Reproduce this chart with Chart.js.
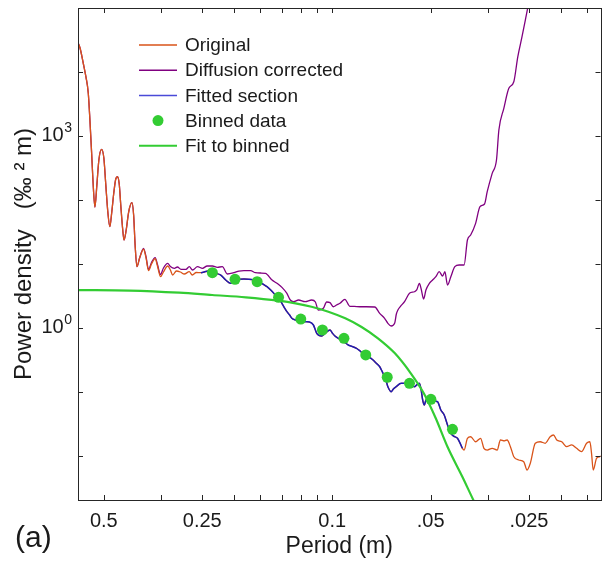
<!DOCTYPE html>
<html>
<head>
<meta charset="utf-8">
<script src="https://cdn.jsdelivr.net/npm/chart.js@4.4.1/dist/chart.umd.min.js"></script>
<style>
html, body { margin: 0; padding: 0; background: #fff; }
canvas { display: block; }
</style>
</head>
<body>
<canvas id="chart" width="606" height="562"></canvas>
<script>
// spatial frequency in cycles per m (period = 1/f), power density in ‰² m

// original spectrum
const origFreq = [1.667, 1.691, 1.730, 1.763, 1.792, 1.813, 1.835, 1.852, 1.878, 1.904,
  1.931, 1.968, 2.000, 2.028, 2.057, 2.086, 2.115, 2.145, 2.175, 2.201,
  2.229, 2.253, 2.285, 2.305, 2.341, 2.382, 2.438, 2.467, 2.493, 2.525,
  2.573, 2.646, 2.693, 2.740, 2.798, 2.872, 2.918, 2.981, 3.044, 3.136,
  3.196, 3.248, 3.334, 3.428, 3.526, 3.651, 3.729, 3.835, 3.963, 4.055,
  4.169, 4.290, 4.410, 4.558, 4.721, 4.889, 5.038, 5.182, 5.367, 5.557,
  5.754, 5.960, 6.129, 6.315, 6.481, 6.698, 6.855, 7.015, 7.149, 7.265,
  7.404, 7.524, 7.720, 7.885, 8.107, 8.356, 8.516, 8.757, 8.963, 9.281,
  9.524, 9.842, 10.00, 10.19, 10.56, 10.88, 11.19, 11.51, 11.86, 12.17,
  12.57, 12.96, 13.33, 13.61, 13.97, 14.19, 14.46, 14.65, 14.80, 15.15,
  15.38, 15.69, 16.24, 16.82, 17.27, 17.84, 18.13, 18.48, 18.71, 18.91,
  19.14, 19.35, 19.86, 20.42, 21.00, 21.49, 22.01, 22.53, 23.06, 23.50,
  24.17, 24.59, 25.02, 25.32, 25.92, 26.52, 27.46, 28.44, 29.11, 29.80,
  30.86, 31.96, 32.71, 33.57, 34.28, 35.09, 35.94, 37.22, 38.55, 39.45,
  40.37, 41.81, 43.29, 44.83, 46.42, 47.53, 48.64, 50.37, 52.16, 54.02,
  55.95, 57.94, 60.01, 61.42, 62.15, 62.89, 64.37, 65.87, 67.12];
const origPower = [28700, 23700, 13700, 8360, 4700, 1778, 542, 205, 77.7, 171,
  422, 619, 453, 171, 64.9, 38.3, 64.9, 128.5, 213, 231,
  178, 83.6, 34.0, 23.7, 34.0, 64.9, 90.8, 58.3, 19.8, 9.08,
  12.4, 17.0, 12.4, 7.86, 10.0, 12.1, 9.31, 6.33, 7.50, 9.31,
  8.06, 6.73, 7.77, 7.50, 6.98, 7.58, 6.73, 7.36, 7.31, 7.50,
  7.77, 7.23, 7.11, 6.73, 5.62, 4.99, 5.52, 5.77, 5.83, 5.77,
  5.62, 5.29, 4.87, 4.42, 3.93, 3.28, 2.94, 2.43, 2.05, 1.80,
  1.60, 1.418, 1.334, 1.300, 1.264, 1.254, 1.241, 1.114, 0.826, 0.750,
  0.835, 0.931, 0.835, 0.750, 0.666, 0.604, 0.543, 0.514, 0.482, 0.437,
  0.379, 0.352, 0.316, 0.284, 0.2485, 0.213, 0.173, 0.1433, 0.121, 0.101,
  0.1114, 0.121, 0.1368, 0.1368, 0.1287, 0.121, 0.1287, 0.1368, 0.1075, 0.0750,
  0.0626, 0.0750, 0.0737, 0.0723, 0.0705, 0.0523, 0.0437, 0.0305, 0.0226, 0.0205,
  0.0189, 0.0160, 0.0132, 0.0124, 0.0189, 0.0200, 0.0167, 0.0189, 0.0132, 0.0124,
  0.0132, 0.0124, 0.0178, 0.0172, 0.0178, 0.0140, 0.00975, 0.00866, 0.00815, 0.00604,
  0.00769, 0.0158, 0.0167, 0.0158, 0.0200, 0.0213, 0.0178, 0.0167, 0.0140, 0.0149,
  0.0132, 0.0117, 0.0158, 0.0167, 0.0110, 0.00604, 0.00920, 0.00975, 0.0104];

// diffusion corrected spectrum (same as original below this frequency)
const corrFreq = [2.646, 2.693, 2.740, 2.798, 2.872, 2.918, 2.981, 3.044, 3.136, 3.196,
  3.288, 3.358, 3.445, 3.568, 3.651, 3.737, 3.870, 4.008, 4.142, 4.297,
  4.450, 4.609, 4.773, 5.002, 5.182, 5.367, 5.624, 5.822, 6.043, 6.246,
  6.542, 6.775, 7.015, 7.265, 7.440, 7.614, 7.885, 8.262, 8.654, 8.880,
  9.068, 9.391, 9.612, 9.842, 10.07, 10.31, 10.56, 10.93, 11.32, 11.67,
  12.14, 12.71, 13.49, 13.97, 14.46, 14.80, 15.15, 15.52, 15.71, 15.88,
  16.21, 16.64, 17.23, 17.84, 18.13, 18.48, 18.71, 19.04, 19.35, 19.82,
  20.28, 20.75, 21.25, 21.76, 22.11, 22.53, 23.06, 23.72, 24.45, 25.32,
  25.92, 26.52, 27.46, 28.32, 29.24, 29.80, 30.86, 31.81, 32.35, 33.50,
  34.70, 35.94, 36.96, 38.08, 38.98, 39.91, 40.84];
const corrPower = [17.5, 12.9, 8.20, 10.55, 12.6, 9.82, 6.85, 8.66, 10.2, 9.14,
  8.57, 8.98, 8.26, 8.26, 9.08, 8.06, 9.08, 8.57, 9.31, 9.31,
  8.88, 9.08, 6.98, 7.31, 7.77, 7.86, 7.86, 7.31, 7.23, 7.15,
  5.62, 4.99, 4.32, 3.48, 2.74, 2.58, 2.74, 2.58, 2.74, 2.55,
  1.91, 2.03, 2.55, 2.49, 2.15, 2.29, 2.43, 2.81, 2.18, 2.17,
  2.15, 2.15, 2.13, 1.697, 1.418, 1.184, 1.075, 1.184, 1.655, 1.91,
  2.21, 2.58, 3.48, 3.69, 3.93, 4.99, 4.07, 2.84, 3.93, 4.99,
  5.62, 6.33, 7.58, 6.49, 7.58, 4.70, 6.33, 9.08, 9.65, 9.65,
  23.7, 28.4, 43.2, 78.6, 86.6, 135, 261, 422, 1241, 2710,
  5560, 7050, 17300, 35600, 64900, 118000, 191000];

// frequency band used for the fit
const fittedBand = [3.9, 25.1];

// binned data
const binFreq = [4.297, 5.04, 5.89, 6.85, 8.01, 9.33, 10.86, 12.66, 14.73, 17.23, 20.04, 23.33];
const binPower = [7.31, 5.77, 5.29, 3.02, 1.38, 0.931, 0.690, 0.379, 0.170, 0.1368, 0.0769, 0.0261];

// fit to binned
const fitFreq = [1.667, 2.399, 3.404, 4.29, 5.44, 6.85, 7.72, 8.64, 9.73, 10.96,
  12.26, 13.80, 15.55, 17.39, 19.04, 20.72, 22.54, 25.03, 27.02, 28.18];
const fitPower = [3.92, 3.85, 3.56, 3.28, 3.02, 2.67, 2.43, 2.15, 1.80, 1.418,
  1.048, 0.690, 0.402, 0.196, 0.0964, 0.0392, 0.01382, 0.00470, 0.002054, 0.001334];

// axes
const periodTickFreq = [2, 4, 10, 20, 40];
const periodTickLabels = ['0.5', '0.25', '0.1', '.05', '.025'];
const minorTickFreq = [3, 5, 6, 7, 8, 9, 30, 50, 60];
const powerDecades = [0.01, 0.1, 1, 10, 100, 1000, 10000];
const powerLabelled = [1, 1000];
const powerLabelExp = ['0', '3'];
const seriesNames = ['Original', 'Diffusion corrected', 'Fitted section', 'Binned data', 'Fit to binned'];

const FONT = "'Liberation Sans', Arial, Helvetica, sans-serif";
const INK = '#1a1a1a';
const AXIS = '#262626';
const ORANGE = '#D95319';
const PURPLE = '#800080';
const BLUE = '#1c1cb4';
const GREEN = '#33cc33';

const pts = (xs, ys) => xs.map((x, i) => ({x: x, y: ys[i]}));
const original = pts(origFreq, origPower);
const corrected = original.filter(p => p.x < corrFreq[0]).concat(pts(corrFreq, corrPower));
const fitted = original.filter(p => p.x > fittedBand[0] && p.x < fittedBand[1]);

const frameAndText = {
  id: 'frameAndText',
  afterDatasetsDraw(chart) {
    const ctx = chart.ctx;
    const a = chart.chartArea;
    const xs = chart.scales.x, ys = chart.scales.y;
    const tl = 5;
    ctx.save();
    ctx.strokeStyle = AXIS;
    ctx.lineWidth = 1;
    ctx.beginPath();
    periodTickFreq.concat(minorTickFreq).forEach(v => {
      const px = Math.round(xs.getPixelForValue(v)) + 0.5;
      ctx.moveTo(px, a.bottom); ctx.lineTo(px, a.bottom - tl);
      ctx.moveTo(px, a.top); ctx.lineTo(px, a.top + tl);
    });
    powerDecades.forEach(v => {
      const py = Math.round(ys.getPixelForValue(v)) + 0.5;
      ctx.moveTo(a.left, py); ctx.lineTo(a.left + tl, py);
      ctx.moveTo(a.right, py); ctx.lineTo(a.right - tl, py);
    });
    ctx.stroke();
    ctx.strokeRect(Math.round(a.left) + 0.5, Math.round(a.top) + 0.5,
      Math.round(a.right - a.left), Math.round(a.bottom - a.top));

    // y labels 10^n
    ctx.fillStyle = INK;
    ctx.textAlign = 'right';
    ctx.textBaseline = 'alphabetic';
    powerLabelled.forEach((v, i) => {
      const py = ys.getPixelForValue(v);
      const xr = a.left - 6;
      ctx.font = '14px ' + FONT;
      const ew = ctx.measureText(powerLabelExp[i]).width;
      ctx.fillText(powerLabelExp[i], xr, py - 4);
      ctx.font = '20px ' + FONT;
      ctx.fillText('10', xr - ew - 0.5, py + 5);
    });

    // legend
    ctx.textAlign = 'left';
    ctx.textBaseline = 'middle';
    ctx.font = '19px ' + FONT;
    const colors = [ORANGE, PURPLE, '#4a4ad8', GREEN, GREEN];
    seriesNames.forEach((name, i) => {
      const y = a.top + 37 + i * 25.2;
      const x0 = a.left + 61, x1 = a.left + 99;
      if (i === 3) {
        ctx.fillStyle = GREEN;
        ctx.beginPath();
        ctx.arc((x0 + x1) / 2, y, 5.5, 0, Math.PI * 2);
        ctx.fill();
      } else {
        ctx.strokeStyle = colors[i];
        ctx.lineWidth = i === 4 ? 2 : 1.5;
        ctx.beginPath();
        ctx.moveTo(x0, y); ctx.lineTo(x1, y);
        ctx.stroke();
      }
      ctx.fillStyle = INK;
      ctx.fillText(name, a.left + 107, y + 1);
    });

    // panel label
    ctx.textBaseline = 'alphabetic';
    ctx.font = '30px ' + FONT;
    ctx.fillText('(a)', 15, 547);
    ctx.restore();
  }
};

new Chart(document.getElementById('chart'), {
  type: 'scatter',
  data: {
    datasets: [
      {label: seriesNames[0], data: original, showLine: true, borderColor: ORANGE, borderWidth: 1.3,
        pointRadius: 0, cubicInterpolationMode: 'monotone', order: 3},
      {label: seriesNames[1], data: corrected, showLine: true, borderColor: PURPLE, borderWidth: 1.3,
        pointRadius: 0, cubicInterpolationMode: 'monotone', order: 4},
      {label: seriesNames[2], data: fitted, showLine: true, borderColor: BLUE, borderWidth: 1.5,
        pointRadius: 0, cubicInterpolationMode: 'monotone', order: 2},
      {label: seriesNames[3], data: pts(binFreq, binPower), showLine: false,
        pointRadius: 5.5, pointBackgroundColor: GREEN, pointBorderWidth: 0, order: 0},
      {label: seriesNames[4], data: pts(fitFreq, fitPower), showLine: true, borderColor: GREEN, borderWidth: 2.2,
        pointRadius: 0, cubicInterpolationMode: 'monotone', order: 1}
    ]
  },
  options: {
    responsive: false,
    animation: false,
    events: [],
    layout: {padding: {top: 8, right: 2, left: 0, bottom: 0}},
    plugins: {legend: {display: false}, tooltip: {enabled: false}},
    scales: {
      x: {
        type: 'logarithmic',
        min: 1.667,
        max: 66.2,
        afterBuildTicks: s => { s.ticks = periodTickFreq.map(v => ({value: v})); },
        afterFit: s => { s.height = 62; },
        ticks: {
          callback: (v, i) => periodTickLabels[i],
          autoSkip: false, maxRotation: 0, padding: 9,
          color: INK, font: {family: FONT, size: 20}
        },
        grid: {display: false, drawTicks: false},
        border: {display: false},
        title: {display: true, text: 'Period (m)', color: INK,
          font: {family: FONT, size: 23}, padding: {top: 0, bottom: 2}}
      },
      y: {
        type: 'logarithmic',
        min: 0.002054,
        max: 100000,
        afterFit: s => { s.width = 78; },
        ticks: {display: false},
        grid: {display: false, drawTicks: false},
        border: {display: false},
        title: {display: true, text: 'Power density   (‰ ² m)', color: INK,
          font: {family: FONT, size: 24}, padding: {top: 10, bottom: 0}}
      }
    }
  },
  plugins: [frameAndText]
});
</script>
</body>
</html>
